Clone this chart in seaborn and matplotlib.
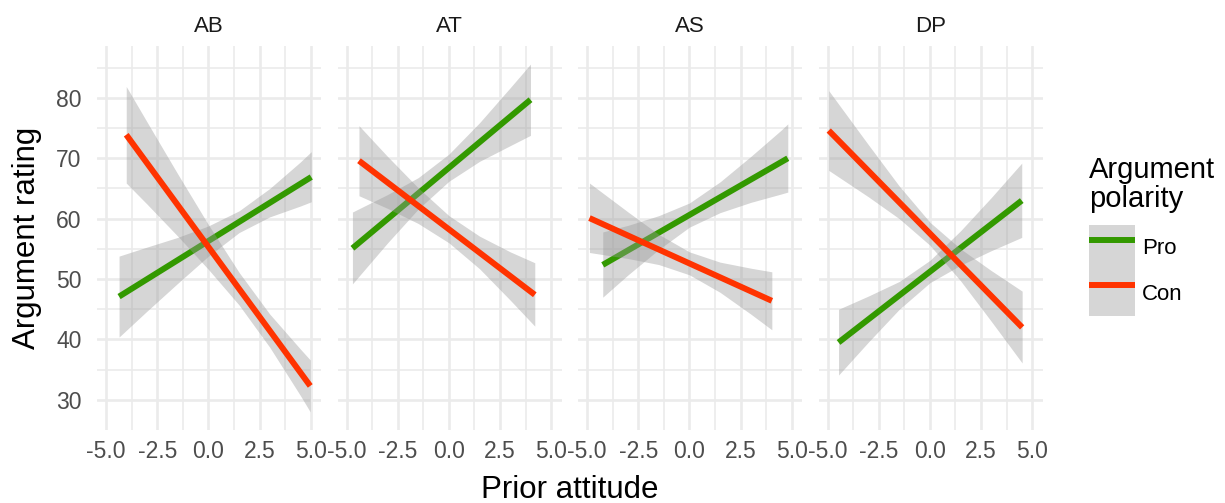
import numpy as np
import pandas as pd
import seaborn as sns
import matplotlib.pyplot as plt
from matplotlib.patches import Patch
from matplotlib.lines import Line2D
from matplotlib.legend_handler import HandlerTuple

# facets and groups
panels = ["AB", "AT", "AS", "DP"]
polarity = ["Pro", "Con"]
colors = {"Pro": "#339900", "Con": "#FF3300"}

# fitted lines: start / end of each line, per panel
pro_x = [[-4.37, 5.03], [-4.72, 3.99], [-4.24, 4.81], [-4.47, 4.49]]
pro_y = [[47.1, 66.9], [55.1, 79.7], [52.35, 70.0], [39.5, 63.0]]
con_x = [[-4.02, 4.98], [-4.40, 4.20], [-4.89, 4.03], [-4.95, 4.51]]
con_y = [[73.9, 32.3], [69.6, 47.4], [60.1, 46.4], [74.6, 42.0]]

# confidence bands
pro_band_x = [[-4.37, -3, -1.5, 0, 1.5, 3, 4.5, 5.03],
              [-4.72, -3, -1.5, 0, 1.5, 3, 3.99],
              [-4.24, -3, -1.5, 0, 1.5, 3, 4.5, 4.81],
              [-4.47, -3, -1.5, 0, 1.5, 3, 4.49]]
pro_band_lo = [[40.4, 44.7, 49.3, 53.8, 57.7, 60.3, 62.1, 62.8],
               [49.2, 56.0, 61.6, 66.2, 69.5, 72.1, 73.8],
               [47.0, 50.7, 54.9, 58.6, 61.0, 62.7, 64.1, 64.4],
               [34.1, 39.6, 45.0, 49.4, 52.3, 54.7, 56.9]]
pro_band_hi = [[53.8, 55.3, 56.9, 58.8, 61.3, 65.0, 69.4, 71.1],
               [61.1, 64.0, 66.8, 70.7, 75.9, 81.7, 85.6],
               [57.8, 58.9, 60.5, 62.6, 66.1, 70.3, 74.7, 75.7],
               [45.0, 47.2, 49.6, 53.1, 58.0, 63.5, 69.2]]

con_band_x = [[-4.02, -3, -1.5, 0, 1.5, 3, 4.5, 4.98],
              [-4.40, -3, -1.5, 0, 1.5, 3, 4.20],
              [-4.89, -3, -1.5, 0, 1.5, 3, 4.03],
              [-4.95, -3, -1.5, 0, 1.5, 3, 4.51]]
con_band_lo = [[65.9, 62.4, 57.1, 51.6, 45.7, 38.7, 30.7, 28.0],
               [63.8, 61.7, 59.2, 56.0, 51.7, 46.5, 42.2],
               [54.4, 53.4, 52.4, 50.7, 47.8, 44.2, 41.6],
               [68.0, 63.6, 60.0, 55.6, 49.7, 43.0, 36.1]]
con_band_hi = [[81.9, 76.0, 67.4, 59.0, 51.1, 44.2, 38.4, 36.6],
               [75.4, 70.3, 65.1, 60.5, 57.1, 54.5, 52.7],
               [65.9, 61.1, 57.4, 54.5, 52.8, 51.8, 51.2],
               [81.2, 72.2, 65.4, 59.4, 55.0, 51.4, 48.0]]

x_ticks = [-5.0, -2.5, 0.0, 2.5, 5.0]
y_ticks = [30, 40, 50, 60, 70, 80]

# long tables
line_rows = []
band_rows = []
for i, p in enumerate(panels):
    for pol, lx, ly, bx, blo, bhi in [
        ("Pro", pro_x, pro_y, pro_band_x, pro_band_lo, pro_band_hi),
        ("Con", con_x, con_y, con_band_x, con_band_lo, con_band_hi),
    ]:
        for x, y in zip(lx[i], ly[i]):
            line_rows.append({"panel": p, "polarity": pol, "x": x, "y": y})
        for x, lo, hi in zip(bx[i], blo[i], bhi[i]):
            band_rows.append({"panel": p, "polarity": pol, "x": x, "lo": lo, "hi": hi})
lines = pd.DataFrame(line_rows)
bands = pd.DataFrame(band_rows)

sns.set_theme(style="white")
plt.rcParams['font.family'] = ['Liberation Sans', 'DejaVu Sans']
plt.rcParams['axes.unicode_minus'] = False

fig, axes = plt.subplots(1, 4, figsize=(12.25, 5.03), dpi=100, sharex=True, sharey=True)
fig.subplots_adjust(left=97 / 1225, right=1043 / 1225, bottom=73 / 503, top=457 / 503, wspace=0.0714)

for ax, p in zip(axes, panels):
    z = 1
    for pol in polarity:
        b = bands[(bands.panel == p) & (bands.polarity == pol)]
        ax.fill_between(b.x, b.lo, b.hi, color="#999999", alpha=0.4, lw=0, zorder=z)
        l = lines[(lines.panel == p) & (lines.polarity == pol)]
        sns.lineplot(data=l, x="x", y="y", color=colors[pol], lw=4.3, ax=ax,
                     legend=False, zorder=z + 1, solid_capstyle="butt")
        z += 2
    ax.set_xlabel("")
    ax.set_ylabel("")
    ax.set_title(p, fontsize=16, color="#1A1A1A", pad=10)
    ax.set_xlim(-5.45, 5.53)
    ax.set_ylim(25.0, 88.6)
    ax.set_xticks(x_ticks)
    ax.set_xticklabels([f"{v:.1f}" for v in x_ticks])
    ax.set_xticks([-3.75, -1.25, 1.25, 3.75], minor=True)
    ax.set_yticks(y_ticks)
    ax.set_yticks([35, 45, 55, 65, 75, 85], minor=True)
    ax.grid(True, which="major", color="#EBEBEB", lw=1.9)
    ax.grid(True, which="minor", color="#EBEBEB", lw=1.2)
    ax.set_axisbelow(True)
    ax.tick_params(which="both", length=0)
    ax.tick_params(axis="x", pad=7.5, labelsize=16.5, labelcolor="#4D4D4D")
    ax.tick_params(axis="y", pad=11, labelsize=16.5, labelcolor="#4D4D4D")
    for s in ax.spines.values():
        s.set_visible(False)

fig.text(570 / 1225, 5 / 503, "Prior attitude", fontsize=22.5, ha="center", va="baseline",
         color="black")
fig.text(35 / 1225, 1 - 238 / 503, "Argument rating", fontsize=22.5, rotation=90,
         rotation_mode="anchor", ha="center", va="baseline", color="black")

# legend
fig.text(1089 / 1225, 1 - 156 / 503, "Argument\npolarity", fontsize=21, ha="left", va="top",
         linespacing=1.05, color="black")
handles = [(Patch(facecolor="#D6D6D6", edgecolor="none"),
            Line2D([], [], color=colors[pol], lw=4.3, solid_capstyle="butt")) for pol in polarity]
fig.legend(handles, polarity, handler_map={tuple: HandlerTuple(ndivide=1, pad=0)},
           loc="upper left", bbox_to_anchor=(1089 / 1225, 1 - 225 / 503), frameon=False,
           borderpad=0, borderaxespad=0, labelspacing=0, handlelength=2.07,
           handleheight=2.78, handletextpad=0.3, fontsize=16, labelcolor="black")

plt.savefig("out.png", dpi=100)
